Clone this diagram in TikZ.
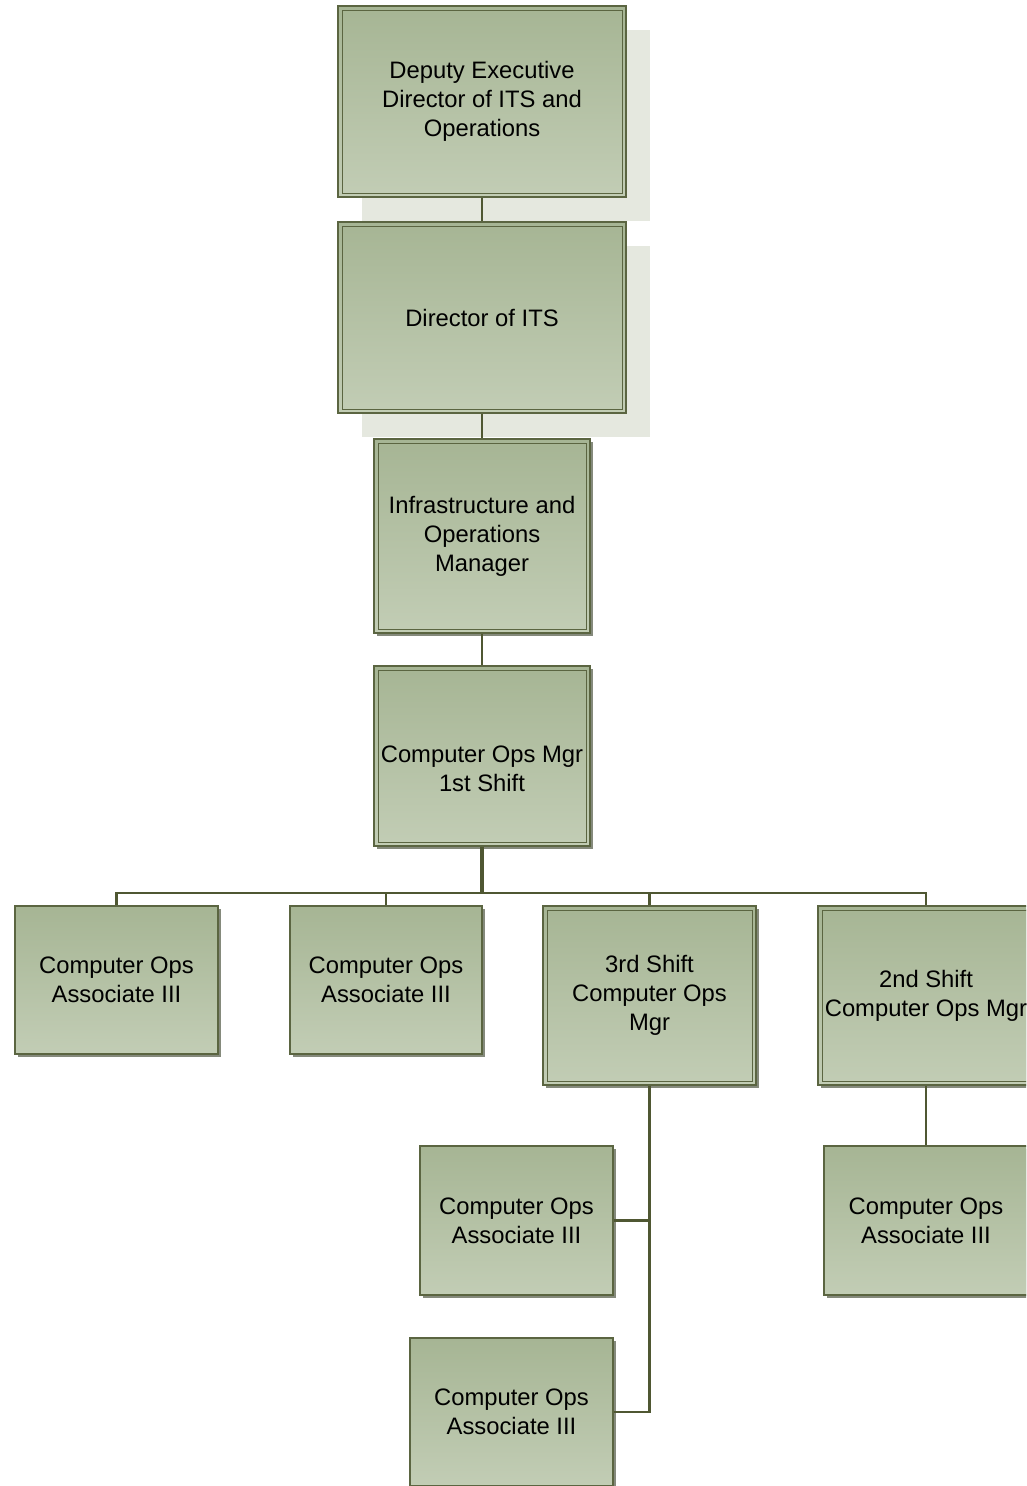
\documentclass[tikz,border=0pt]{standalone}
\usepackage{fontspec}
\setmainfont{Liberation Sans}
\usetikzlibrary{positioning,shadows,calc}
\definecolor{boxtop}{HTML}{A6B594}
\definecolor{boxbottom}{HTML}{C2CDB5}
\definecolor{boxline}{HTML}{5B6541}
\definecolor{linkcol}{HTML}{4F5732}
\definecolor{shadelight}{HTML}{E5E8DF}
\definecolor{shadedark}{HTML}{858A7C}

\begin{document}
\begin{tikzpicture}[x=1pt,y=-1pt]
\tikzstyle{post}=[draw=boxline, line width=1.6pt, top color=boxtop, bottom color=boxbottom, align=center, inner sep=2pt, font=\fontsize{23.8}{29}\selectfont]
\tikzstyle{twin}=[path picture={\draw[boxline, line width=1pt] ($(path picture bounding box.south west)+(4pt,4pt)$) rectangle ($(path picture bounding box.north east)-(4pt,4pt)$);}]
\tikzstyle{lowshadow}=[drop shadow={shadow xshift=3pt, shadow yshift=-3pt, fill=shadedark, opacity=1}]
\tikzstyle{wideshadow}=[drop shadow={shadow xshift=24pt, shadow yshift=-24pt, fill=shadelight, opacity=1}]
\tikzstyle{link}=[draw=linkcol, line width=2.4pt]
\useasboundingbox (0,0) rectangle (1026,1486);
\clip (0,0) rectangle (1026,1486);

% top of the chart
\node[post, twin, wideshadow, minimum width=288pt, minimum height=191pt, text depth=6pt] (deputy) at (482,101.5) {Deputy Executive\\Director of ITS and\\Operations};
\node[post, twin, wideshadow, minimum width=288pt, minimum height=191pt, below=23.4pt of deputy] (director) {Director of ITS};
\node[post, twin, lowshadow, minimum width=216pt, minimum height=194pt, below=24.4pt of director] (infra) {Infrastructure and\\Operations\\Manager};
\node[post, twin, lowshadow, minimum width=216pt, minimum height=180pt, below=31.4pt of infra,
  label={[name=ops1text, align=center, font=\fontsize{23.8}{29}\selectfont, yshift=-13pt]center:{Computer Ops Mgr\\1st Shift}}] (ops1) {};

% first row
\node[post, lowshadow, minimum width=203pt, minimum height=148pt] (assocA) at (116.5,980) {Computer Ops\\Associate III};
\node[post, lowshadow, minimum width=192pt, minimum height=148pt] (assocB) at (386,980) {Computer Ops\\Associate III};
\node[post, twin, lowshadow, minimum width=213pt, minimum height=179pt] (ops3) at (649.5,995.5) {3rd Shift\\Computer Ops\\Mgr};
\node[post, twin, lowshadow, minimum width=216pt, minimum height=179pt] (ops2) at (926,995.5) {2nd Shift\\Computer Ops Mgr};

% under the shift managers
\node[post, lowshadow, minimum width=193pt, minimum height=149pt] (assocC) at (516.5,1220.5) {Computer Ops\\Associate III};
\node[post, lowshadow, minimum width=203pt, minimum height=148pt] (assocD) at (511.5,1412) {Computer Ops\\Associate III};
\node[post, lowshadow, minimum width=204pt, minimum height=149pt] (assocE) at (926,1220.5) {Computer Ops\\Associate III};

\coordinate (bus) at (482,893);
\draw[link] (deputy) -- (director);
\draw[link] (director) -- (infra);
\draw[link] (infra) -- (ops1);
\draw[link, line width=3.5pt] (ops1) -- (ops1 |- bus);
\draw[link] (assocA.north) -- (assocA.north |- bus) -- (ops2.north |- bus) -- (ops2.north);
\draw[link] (assocB.north) -- (assocB.north |- bus);
\draw[link] (ops3.north) -- (ops3.north |- bus);
\draw[link] (ops3.south) |- (assocC.east);
\draw[link] (ops3.south) |- (assocD.east);
\draw[link] (ops2) -- (assocE);
\end{tikzpicture}
\end{document}
